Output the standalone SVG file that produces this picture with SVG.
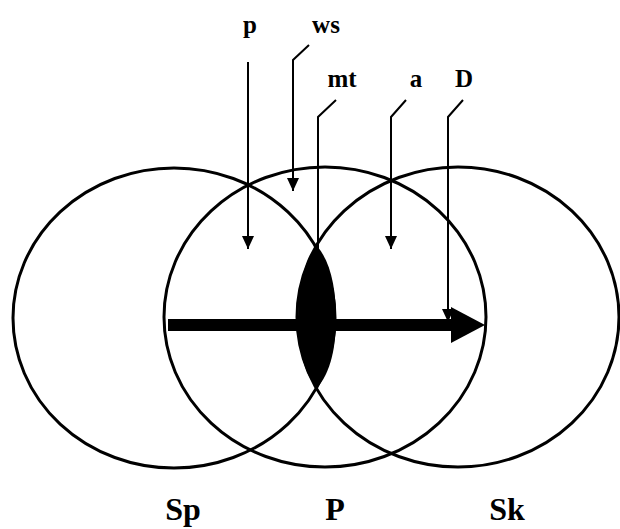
<svg xmlns="http://www.w3.org/2000/svg" width="620" height="529" viewBox="0 0 620 529">
<style>
.c{fill:none;stroke:#000;stroke-width:3}
.l{fill:none;stroke:#000;stroke-width:2}
.t{font-family:"Liberation Serif","Times New Roman",serif;font-weight:bold;fill:#000;text-anchor:middle}
.s{font-size:25px}
.b{font-size:32px}
</style>
<defs>
<marker id="ah" viewBox="0 0 13 12" refX="13" refY="6" markerWidth="13" markerHeight="12" markerUnits="userSpaceOnUse" orient="auto">
<path d="M0,0 L13,6 L0,12 z" fill="#000"/>
</marker>
</defs>
<rect width="620" height="529" fill="#fff"/>
<g id="Sp"><ellipse class="c" cx="174" cy="318" rx="161" ry="150"/></g>
<g id="P"><ellipse class="c" cx="325" cy="317" rx="161" ry="150"/></g>
<g id="Sk"><ellipse class="c" cx="458" cy="317" rx="161" ry="150"/></g>
<g id="mt-lens"><path d="M317,246 C331,262 336,290 336,318 C336,346 331,372 317,388 C303,372 298,346 298,318 C298,290 303,262 317,246 Z" fill="#000"/></g>
<g id="D-arrow">
<rect x="168" y="319" width="286" height="12" fill="#000"/>
<path d="M451,307 L485,325 L451,343 Z" fill="#000"/>
</g>
<g id="connectors">
<path class="l" d="M248,62 V249" marker-end="url(#ah)"/>
<path class="l" d="M309,45 L293,60 V191" marker-end="url(#ah)"/>
<path class="l" d="M336,100 L318,117 V250"/>
<path class="l" d="M406,100 L391,117 V249" marker-end="url(#ah)"/>
<path class="l" d="M463,100 L448,117 V322" marker-end="url(#ah)"/>
</g>
<g id="labels">
<text class="t s" x="250" y="33">p</text>
<text class="t s" x="326" y="33">ws</text>
<text class="t s" x="342" y="87">mt</text>
<text class="t s" x="416" y="87">a</text>
<text class="t s" x="464" y="87">D</text>
<text class="t b" x="183" y="520">Sp</text>
<text class="t b" x="335" y="520">P</text>
<text class="t b" x="507" y="520">Sk</text>
</g>
</svg>
